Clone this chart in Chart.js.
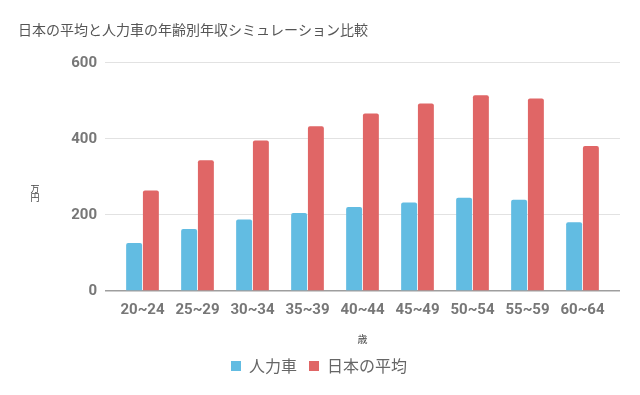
<!DOCTYPE html>
<html>
<head>
<meta charset="utf-8">
<script src="https://cdn.jsdelivr.net/npm/chart.js@4/dist/chart.umd.min.js"></script>
<style>
  html, body { margin: 0; padding: 0; background: #fff; }
  #wrap { width: 640px; height: 395px; }
</style>
</head>
<body>
<div id="wrap"><canvas id="c" width="640" height="395"></canvas></div>
<script>
'use strict';

/* ---- data ---------------------------------------------------------------- */
const TITLE   = '日本の平均と人力車の年齢別年収シミュレーション比較';
const Y_TITLE = '万円';
const X_TITLE = '歳';
const AGES    = ['20~24', '25~29', '30~34', '35~39', '40~44', '45~49', '50~54', '55~59', '60~64'];
const RICKSHAW = [126, 163, 188, 205, 221, 233, 245, 240, 181];   // 人力車
const JP_AVG   = [264, 344, 396, 433, 467, 493, 515, 506, 381];   // 日本の平均
const Y_MIN = 0, Y_MAX = 600, Y_STEP = 200;

/* ---- look ---------------------------------------------------------------- */
const FONT  = "Roboto, 'Noto Sans CJK JP', sans-serif";
const JFONT = "'Noto Sans CJK JP', Roboto, sans-serif";
const BLUE = '#62bce2', RED = '#e06666';
const GRID = '#e2e2e2', ZERO = '#9e9e9e';
const gridColor = (c) => (c.tick && c.tick.value === 0) ? ZERO : GRID;
const gridWidth = (c) => (c.tick && c.tick.value === 0) ? 1.5 : 1;

/* stacked (vertical) y title, drawn like the sheet export does */
const stackedYTitle = {
  id: 'stackedYTitle',
  afterDraw(chart) {
    const { ctx, chartArea } = chart;
    const mid = (chartArea.top + chartArea.bottom) / 2 + 16;
    ctx.save();
    ctx.font = '9px ' + JFONT;
    ctx.fillStyle = '#444';
    ctx.textAlign = 'center';
    ctx.textBaseline = 'middle';
    [...Y_TITLE].forEach((ch, i) => ctx.fillText(ch, 35, mid - 4.5 + i * 9));
    ctx.restore();
  }
};

new Chart(document.getElementById('c'), {
  type: 'bar',
  data: {
    labels: AGES,
    datasets: [
      { label: '人力車',     data: RICKSHAW, backgroundColor: BLUE, borderRadius: 2,
        categoryPercentage: 0.61, barPercentage: 0.95 },
      { label: '日本の平均', data: JP_AVG,   backgroundColor: RED,  borderRadius: 2,
        categoryPercentage: 0.61, barPercentage: 0.95 },
    ]
  },
  options: {
    responsive: false,
    animation: false,
    layout: { padding: { left: 18, right: 20, top: 0, bottom: 11 } },
    scales: {
      x: {
        grid: { display: false, drawTicks: false },
        border: { display: false },
        ticks: { color: '#777', padding: 10, font: { family: FONT, size: 15, weight: 'bold' } },
        title: { display: true, text: X_TITLE, color: '#444', padding: { top: 4, bottom: 1 },
                 font: { family: JFONT, size: 10 } },
      },
      y: {
        min: Y_MIN, max: Y_MAX,
        ticks: { stepSize: Y_STEP, color: '#777', padding: 8, font: { family: FONT, size: 15, weight: 'bold' } },
        grid: { color: gridColor, lineWidth: gridWidth, drawTicks: true, tickLength: 10 },
        border: { display: false },
        afterFit: (s) => { s.width = 97; },
      },
      // invisible twin: only lets the grid lines run 10px past the last group
      yR: {
        position: 'right',
        min: Y_MIN, max: Y_MAX,
        ticks: { stepSize: Y_STEP, display: false },
        grid: { color: gridColor, lineWidth: gridWidth, drawOnChartArea: false, drawTicks: true, tickLength: 10 },
        border: { display: false },
        afterFit: (s) => { s.width = 10; },
      },
    },
    plugins: {
      title: {
        display: true, text: TITLE, align: 'start', color: '#555',
        font: { family: JFONT, size: 14, weight: 'normal' },
        padding: { top: 21, bottom: 25 },
      },
      legend: {
        position: 'bottom',
        labels: { boxWidth: 10, boxHeight: 10, color: '#666', padding: 12,
                  font: { family: JFONT, size: 16 } },
      },
      tooltip: { enabled: false },
    },
  },
  plugins: [stackedYTitle],
});
</script>
</body>
</html>
